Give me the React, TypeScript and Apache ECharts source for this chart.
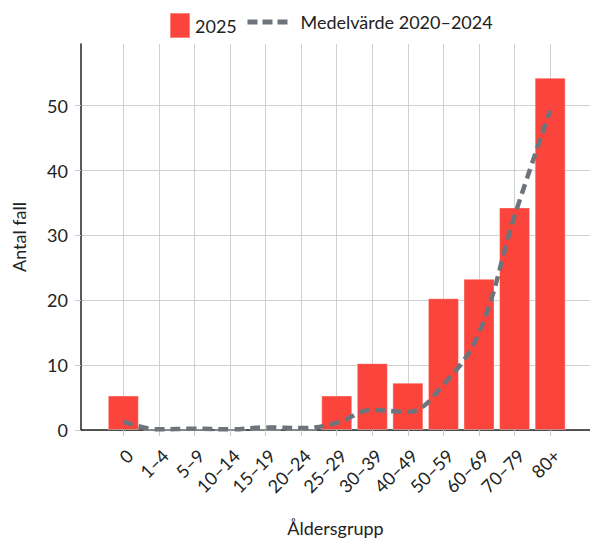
import React, { useEffect, useRef } from "react";
import * as echarts from "echarts";

const categories = ["0", "1–4", "5–9", "10–14", "15–19", "20–24", "25–29", "30–39", "40–49", "50–59", "60–69", "70–79", "80+"];
const values2025 = [5.3, 0, 0, 0, 0, 0, 5.3, 10.3, 7.3, 20.3, 23.3, 34.3, 54.3];
const avg2020_2024 = [1.3, 0.1, 0.2, 0.1, 0.4, 0.3, 1.1, 3.1, 2.8, 7.0, 15.0, 33.0, 49.2];
const yTicks = [0, 10, 20, 30, 40, 50];

const FONT = "Lato";

export default function App() {
  const ref = useRef<HTMLDivElement>(null);
  useEffect(() => {
    const chart = echarts.init(ref.current!, null, { renderer: "svg" });
    const idx = categories.map((_, i) => i);
    chart.setOption({
      animation: false,
      textStyle: { fontFamily: FONT },
      legend: [
        {
          data: [{ name: "2025", icon: "rect" }],
          left: 164,
          top: 7,
          itemWidth: 20,
          itemHeight: 25,
          textStyle: { fontFamily: FONT, fontSize: 18, color: "#222" },
        },
        {
          data: ["Medelvärde 2020–2024"],
          left: 240,
          top: 7,
          itemWidth: 40,
          itemHeight: 25,
          itemStyle: { color: "rgba(0,0,0,0)", opacity: 0, borderWidth: 0 },
          lineStyle: { color: "#6f737b", width: 5, type: [10, 5] },
          textStyle: { fontFamily: FONT, fontSize: 18, color: "#222", padding: [0, 0, 0, 8] },
        },
      ],
      grid: { left: 81, right: 0, top: 44, bottom: 108, containLabel: false, outerBoundsMode: "none" },
      xAxis: {
        type: "value",
        min: -1.19,
        max: 13.12,
        name: "Åldersgrupp",
        nameLocation: "middle",
        nameGap: 89,
        nameTextStyle: { fontFamily: FONT, fontSize: 18, color: "#222" },
        axisLine: { show: true, onZero: false, lineStyle: { color: "#222", width: 1.5 } },
        axisTick: { show: true, length: 6, customValues: idx, lineStyle: { color: "#c8c8c8" } },
        axisLabel: {
          customValues: idx,
          rotate: 45,
          margin: 16,
          verticalAlign: "top",
          fontSize: 18,
          color: "#222",
          fontFamily: FONT,
          formatter: (v: number) => categories[Math.round(v)] ?? "",
        },
        splitLine: { show: true, lineStyle: { color: "#d0d0d0", width: 1 } },
      },
      yAxis: {
        type: "value",
        min: 0,
        max: 59.5,
        name: "Antal fall",
        nameLocation: "middle",
        nameGap: 53,
        nameTextStyle: { fontFamily: FONT, fontSize: 18, color: "#222" },
        axisLine: { show: true, onZero: false, lineStyle: { color: "#222", width: 1.5 } },
        axisTick: { show: true, length: 6, customValues: yTicks, lineStyle: { color: "#c8c8c8" } },
        axisLabel: { customValues: yTicks, margin: 13, fontSize: 18, color: "#222", fontFamily: FONT },
        splitLine: { show: true, lineStyle: { color: "#d0d0d0", width: 1 } },
      },
      series: [
        {
          name: "2025",
          type: "bar",
          data: values2025.map((v, i) => [i, v]),
          barWidth: 31,
          itemStyle: { color: "#fb443b", borderColor: "rgba(255,255,255,0.35)", borderWidth: 1 },
          z: 2,
        },
        {
          name: "Medelvärde 2020–2024",
          type: "line",
          data: avg2020_2024.map((v, i) => [i, v]),
          smooth: 0.4,
          symbol: "none",
          lineStyle: { color: "#6f737b", width: 4.5, type: [10, 6] },
          itemStyle: { color: "#6f737b" },
          z: 3,
        },
      ],
    });
    return () => chart.dispose();
  }, []);
  return <div ref={ref} style={{ width: 590, height: 538, position: "absolute", left: 0, top: 0 }} />;
}
